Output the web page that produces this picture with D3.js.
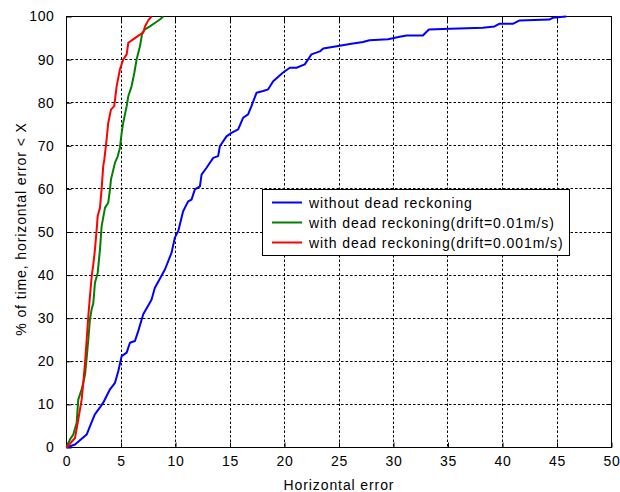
<!DOCTYPE html>
<html>
<head>
<meta charset="utf-8">
<script src="https://cdn.jsdelivr.net/npm/d3@7"></script>
<style>
  html, body { margin: 0; padding: 0; background: #fff; }
  svg { display: block; }
  text { font-family: "Liberation Sans", Arial, sans-serif; fill: #000; }
</style>
</head>
<body>
<svg id="chart" width="620" height="492"></svg>
<script>
// ---- data ----
const xTicks = [0, 5, 10, 15, 20, 25, 30, 35, 40, 45, 50];
const yTicks = [0, 10, 20, 30, 40, 50, 60, 70, 80, 90, 100];
const xLabel = "Horizontal error";
const yLabel = "% of time, horizontal error < X";
const seriesNames = [
  "without dead reckoning",
  "with dead reckoning(drift=0.01m/s)",
  "with dead reckoning(drift=0.001m/s)"
];
const seriesColors = ["#0000ff", "#008000", "#ff0000"];

const blueX = [0,0.78,1.85,2.15,2.6,3.07,3.37,3.99,4.45,4.75,5.06,5.52,5.82,6.28,6.58,7.04,7.8,8.1,9.03,9.64,9.94,10.25,10.7,11.16,11.47,11.78,12.24,12.39,12.85,13.46,13.91,14.07,14.68,15.14,15.75,16.2,16.66,16.97,17.43,18.04,18.5,18.96,19.87,20.49,21.1,21.86,22.47,23.24,23.55,25.07,25.99,27.2,27.8,29.5,30.57,31.2,32.7,33.25,34.5,38.2,39.27,39.7,40.95,41.57,44.3,44.6,45.85];
const blueY = [0,0.7,3,4.9,7.7,9.3,10.4,13.5,15,17.7,21.2,22,24.3,24.7,27,30.9,34.3,37,41.3,45.2,48.7,50.2,54.8,57.1,57.5,59.9,60.6,63.3,64.9,67.2,67.6,69.9,72.2,73,73.8,76.5,77.3,79.2,82.3,82.7,83.1,85,87,88.1,88.1,88.9,91.2,91.9,92.6,93.2,93.6,94.1,94.5,94.7,95.3,95.6,95.6,97,97.1,97.4,97.7,98.3,98.3,99.1,99.3,99.7,100];

const greenX = [0,0.32,0.62,0.93,1.08,1.39,1.54,1.7,1.85,2.0,2.15,2.3,2.46,2.61,2.86,3.07,3.22,3.53,3.83,3.99,4.08,4.45,4.69,4.9,5.06,5.2,5.52,5.67,5.97,6.22,6.43,6.74,6.95,7.2,7.65,8.1,8.57,8.87];
const greenY = [0,1.9,3,5.7,11.1,13.5,15,16.9,20.8,25,29.7,32,33.5,38.2,40.5,45.9,51.3,55.6,56.8,59.9,62.2,66.1,67.5,69.5,73,75.3,79.2,81.5,83.8,86.9,90,93.1,96.2,97,97.7,98.5,99.3,100];

const redX = [0,0.78,1.08,1.39,1.54,1.7,1.85,2.0,2.15,2.31,2.46,2.61,2.77,2.86,3.07,3.22,3.37,3.47,3.68,3.83,4.08,4.38,4.6,4.9,5.2,5.52,5.67,6.12,6.74,7.04,7.2,7.5,7.8];
const redY = [0,2.2,6.5,11.1,15,19.6,25,30.5,35,39.7,42.5,45.9,50.6,53.7,55.6,59.9,65.3,66.8,71.5,75.3,78.4,79.2,83.8,87.7,90,91.2,93.9,94.7,95.8,96.2,97.7,99.1,100];

// ---- layout ----
const L = 66.5, R = 611.5, T = 16.5, B = 447.5;
const svg = d3.select("#chart");
const x = d3.scaleLinear().domain([0, 50]).range([L, R]);
const y = d3.scaleLinear().domain([0, 100]).range([B, T]);
const snap = v => Math.round(v - 0.5) + 0.5;

// grid
const grid = svg.append("g");
xTicks.slice(1, -1).forEach(t => {
  grid.append("line").attr("x1", snap(x(t))).attr("x2", snap(x(t)))
    .attr("y1", T).attr("y2", B)
    .attr("stroke", "#000").attr("stroke-width", 1).attr("stroke-dasharray", "2.5,2");
});
yTicks.slice(1, -1).forEach(t => {
  grid.append("line").attr("y1", snap(y(t))).attr("y2", snap(y(t)))
    .attr("x1", L).attr("x2", R)
    .attr("stroke", "#000").attr("stroke-width", 1).attr("stroke-dasharray", "2.5,2");
});

// axes (D3 axes, inward ticks)
const xAxis = d3.axisBottom(x).tickValues(xTicks).tickSize(-5).tickPadding(9).tickFormat(d3.format("d"));
const yAxis = d3.axisLeft(y).tickValues(yTicks).tickSize(-5).tickPadding(12).tickFormat(d3.format("d"));
const gx = svg.append("g").attr("transform", `translate(0,${B})`).call(xAxis);
const gy = svg.append("g").attr("transform", `translate(${L},0)`).call(yAxis);
[gx, gy].forEach(g => {
  g.select(".domain").remove();
  g.selectAll("line").attr("stroke", "#000");
  g.selectAll("text").attr("font-size", 14).attr("letter-spacing", "0.6px")
    .attr("font-family", "Liberation Sans, Arial, sans-serif").attr("fill", "#000");
});
gx.selectAll("text").attr("dy", "0.71em");

// top/right ticks
const gTop = svg.append("g");
xTicks.forEach(t => gTop.append("line").attr("x1", snap(x(t))).attr("x2", snap(x(t))).attr("y1", T).attr("y2", T + 5).attr("stroke", "#000"));
yTicks.forEach(t => gTop.append("line").attr("y1", snap(y(t))).attr("y2", snap(y(t))).attr("x1", R).attr("x2", R - 5).attr("stroke", "#000"));

// frame
svg.append("rect").attr("x", L).attr("y", T).attr("width", R - L).attr("height", B - T)
  .attr("fill", "none").attr("stroke", "#000").attr("stroke-width", 1);

// lines
const line = d3.line().x(d => x(d[0])).y(d => y(d[1]));
const series = [
  d3.zip(blueX, blueY),
  d3.zip(greenX, greenY),
  d3.zip(redX, redY)
];
const plot = svg.append("g");
series.forEach((s, i) => {
  plot.append("path").datum(s).attr("d", line)
    .attr("fill", "none").attr("stroke", seriesColors[i])
    .attr("stroke-width", 2).attr("stroke-linejoin", "round");
});

// labels
svg.append("text").attr("x", (L + R) / 2).attr("y", 490)
  .attr("text-anchor", "middle").attr("font-size", 14).attr("letter-spacing", "0.9px")
  .text(xLabel);
svg.append("text").attr("transform", `translate(26,229) rotate(-90)`)
  .attr("text-anchor", "middle").attr("font-size", 14).attr("letter-spacing", "0.9px")
  .text(yLabel);

// legend
const lg = svg.append("g");
const box = lg.append("rect").attr("x", 262.5).attr("y", 189.5).attr("height", 66)
  .attr("fill", "#fff").attr("stroke", "#000").attr("stroke-width", 1);
let maxEnd = 0;
seriesNames.forEach((n, i) => {
  const cy = 202.5 + i * 20;
  lg.append("line").attr("x1", 272).attr("x2", 302).attr("y1", cy).attr("y2", cy)
    .attr("stroke", seriesColors[i]).attr("stroke-width", 2);
  const t = lg.append("text").attr("x", 309).attr("y", cy + 5).attr("font-size", 14)
    .attr("letter-spacing", "0.9px").text(n);
  const bb = t.node().getBBox();
  maxEnd = Math.max(maxEnd, bb.x + bb.width);
});
box.attr("width", Math.round(maxEnd - 262.5 + 6));
</script>
</body>
</html>
